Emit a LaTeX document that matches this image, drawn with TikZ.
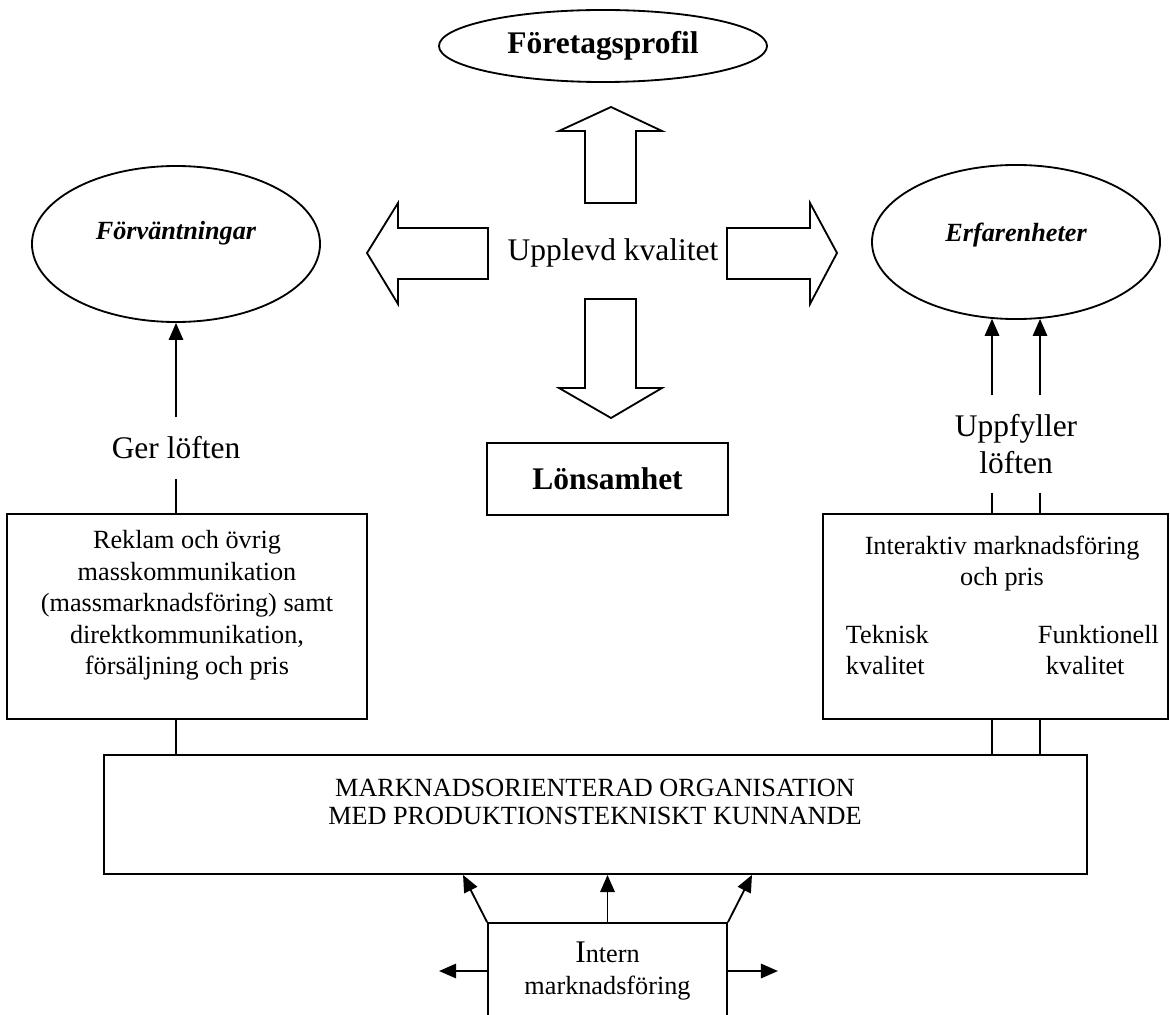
\documentclass[tikz,border=0pt]{standalone}
\usepackage{fontspec}
\setmainfont{Liberation Serif}
\usetikzlibrary{shapes.geometric,arrows.meta,positioning}
\begin{document}
\begin{tikzpicture}[x=0.0134cm, y=-0.0134cm, line width=0.7pt,
  box/.style={draw, rectangle, inner sep=0pt},
  oval/.style={draw, ellipse, inner sep=0pt},
  pil/.style={-{Triangle[length=6.5pt,width=5.5pt]}},
  blockpil/.style={draw, line join=miter}]
\useasboundingbox (0,0) rectangle (1170,1014);
% top row
\node (profil) at (603,46) [oval, minimum width=4.395cm, minimum height=0.965cm, font=\large\bfseries] {Företagsprofil};
\node (forv) at (176,244) [oval, minimum width=3.859cm, minimum height=2.09cm] {};
\node (forvtext) at (176,233) [font=\bfseries\itshape] {Förväntningar};
\node (erf) at (1016,242) [oval, minimum width=3.859cm, minimum height=2.064cm] {};
\node (erftext) at (1016,235) [font=\bfseries\itshape] {Erfarenheter};
\node (kvalitet) at (613,253) [font=\large] {Upplevd kvalitet};
% block arrows round the centre
\draw [blockpil] (585,203) -- (585,131) -- (559,131) -- (611,107) -- (662,131) -- (636,131) -- (636,203) -- cycle;
\draw [blockpil] (585,299) -- (636,299) -- (636,388) -- (662,388) -- (611,418) -- (559,388) -- (585,388) -- cycle;
\draw [blockpil] (488,228) -- (398,228) -- (398,203) -- (367,253) -- (398,304) -- (398,279) -- (488,279) -- cycle;
\draw [blockpil] (727,228) -- (810,228) -- (810,203) -- (837,253) -- (810,304) -- (810,279) -- (727,279) -- cycle;
\node (lonsamhet) at (607.5,479) [box, minimum width=3.229cm, minimum height=0.965cm, font=\large\bfseries] {Lönsamhet};
% promises
\node (ger) at (176,448) [font=\large, inner ysep=7pt] {Ger löften};
\node (uppfyller) at (1016,444) [font=\large, align=center, inner ysep=7pt] {Uppfyller\\löften};
\node (leftbox) at (187,616.5) [box, minimum width=4.824cm, minimum height=2.747cm] {};
\node (leftboxtext) [below=3pt of leftbox.north, align=center] {Reklam och övrig\\masskommunikation\\(massmarknadsföring) samt\\direktkommunikation,\\försäljning och pris};
\node (rightbox) at (995.5,616.5) [box, minimum width=4.623cm, minimum height=2.747cm] {};
\node (rightboxtext) [below=5pt of rightbox.north, xshift=2.5pt, align=center] {Interaktiv marknadsföring\\och pris};
\node (teknisk) at (845,624) [anchor=north west, inner sep=0pt, align=left] {Teknisk\\kvalitet};
\node (funktionell) at (1037,624) [anchor=north west, inner sep=0pt, align=left] {Funktionell\\\hspace*{0.3em}kvalitet};
% organisation and internal marketing
\node (market) at (595.5,814.5) [box, minimum width=13.172cm, minimum height=1.595cm] {};
\node (markettext) at (595,802) [align=center, font=\fontsize{10}{11}\selectfont] {MARKNADSORIENTERAD ORGANISATION\\MED PRODUKTIONSTEKNISKT KUNNANDE};
\node (intern) at (607.5,971) [box, minimum width=3.203cm, minimum height=1.286cm, align=center] {{\large I}ntern\\marknadsföring};
% connectors
\draw [pil] (ger) -- (forv);
\draw (leftbox.north -| ger) -- (ger);
\draw (leftbox.south -| ger) -- (market.north -| ger);
\draw [pil] ([xshift=-9.15pt]uppfyller.north) -- ([xshift=-9.15pt]uppfyller.north |- erf.252.5);
\draw [pil] ([xshift=9.15pt]uppfyller.north) -- ([xshift=9.15pt]uppfyller.north |- erf.287.5);
\draw ([xshift=-9.15pt]uppfyller.south) -- ([xshift=-9.15pt]uppfyller.south |- rightbox.north);
\draw ([xshift=9.15pt]uppfyller.south) -- ([xshift=9.15pt]uppfyller.south |- rightbox.north);
\draw ([xshift=-9.15pt]uppfyller.south |- rightbox.south) -- ([xshift=-9.15pt]uppfyller.south |- market.north);
\draw ([xshift=9.15pt]uppfyller.south |- rightbox.south) -- ([xshift=9.15pt]uppfyller.south |- market.north);
\draw [pil] (intern.north west) -- ([xshift=-9.15pt]intern.north west |- market.south);
\draw [pil] (intern.north) -- (intern.north |- market.south);
\draw [pil] (intern.north east) -- ([xshift=9.15pt]intern.north east |- market.south);
\draw [pil] (intern.west) -- ++(-48,0);
\draw [pil] (intern.east) -- ++(50,0);
\end{tikzpicture}
\end{document}
